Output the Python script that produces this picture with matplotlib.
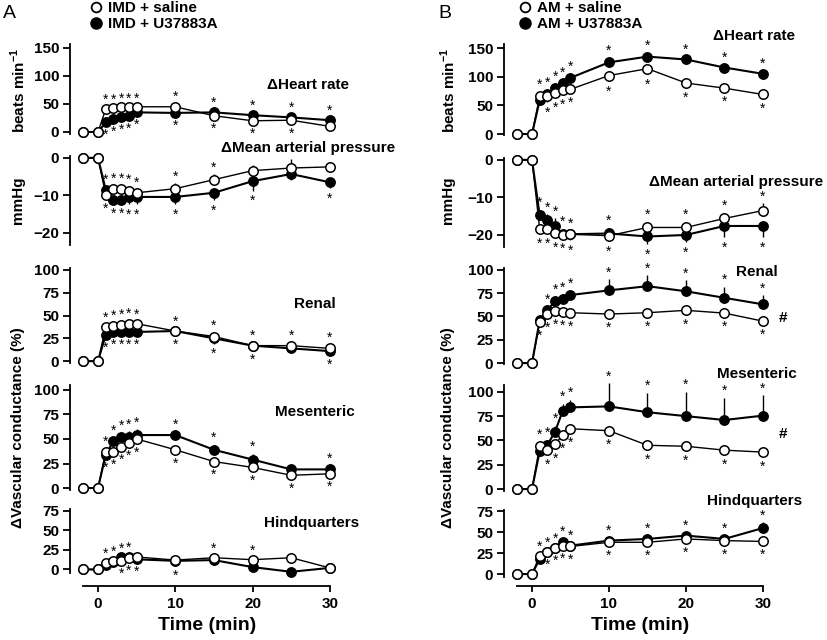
import numpy as np
import matplotlib
matplotlib.use('Agg')
import matplotlib.pyplot as plt
from matplotlib.lines import Line2D

plt.rcParams['font.family'] = ['Liberation Sans', 'DejaVu Sans']
plt.rcParams['font.weight'] = 'bold'
plt.rcParams['mathtext.fontset'] = 'custom'
plt.rcParams['mathtext.rm'] = 'Liberation Sans:bold'
plt.rcParams['mathtext.bf'] = 'Liberation Sans:bold'

W, H = 827, 640

# ---- data ----
t = [-2, 0, 1, 2, 3, 4, 5, 10, 15, 20, 25, 30]

# Panel A (IMD)
a_hr_sal = [0, 0, 41, 42, 44, 45, 45, 45, 29, 20, 21, 10]
a_hr_u37 = [0, 0, 17, 23, 26, 28, 35, 34, 35, 30, 26, 21]
a_map_sal = [0, 0, -9.8, -8.3, -8.3, -8.7, -9.3, -8.2, -5.8, -3.4, -2.7, -2.4]
a_map_u37 = [0, 0, -8.6, -11.1, -11.1, -10.4, -10.4, -10.4, -9.3, -6.2, -4.3, -6.5]
a_ren_sal = [0, 0, 37, 39, 40, 41, 41, 33, 27, 17, 17, 14]
a_ren_u37 = [0, 0, 29, 32, 32, 32, 32, 33, 25, 17, 14, 11]
a_mes_sal = [0, 0, 37, 37, 42, 46, 50, 39, 27, 21, 13, 14.5]
a_mes_u37 = [0, 0, 34, 48, 52, 52, 54, 54, 39, 29, 19, 19]
a_hq_sal = [0, 0, 8, 11, 11, 15, 16, 12, 15, 12.5, 15, 2]
a_hq_u37 = [0, 0, 6, 10, 16, 16, 13, 11, 12, 3, -3, 2]

# Panel B (AM)
b_hr_sal = [0, 0, 66, 66, 72, 77, 78, 102, 114, 89, 80, 69]
b_hr_u37 = [0, 0, 59, 69, 80, 89, 98, 125, 135, 130, 116, 105]
b_map_sal = [0, 0, -18.5, -18.5, -19.6, -20, -19.8, -20.2, -18, -18, -15.6, -13.5]
b_map_u37 = [0, 0, -14.8, -16, -17.6, -19.8, -19.8, -19.6, -20.4, -20, -17.6, -17.6]
b_ren_sal = [0, 0, 44, 52.6, 56, 55, 54, 52.6, 54, 56.6, 53.6, 45]
b_ren_u37 = [0, 0, 46, 56.6, 66.7, 68.6, 73, 78, 82.5, 77, 70, 63]
b_mes_sal = [0, 0, 44.5, 40, 46, 56, 62, 60, 45, 44, 40, 38]
b_mes_u37 = [0, 0, 39, 45.5, 59, 80.7, 84, 85, 79, 75, 71, 75.5]
b_hq_sal = [0, 0, 22, 26, 31, 34, 33, 38, 38, 42, 40, 39]
b_hq_u37 = [0, 0, 18, 26, 31, 38, 34, 40, 42, 46, 42, 55]

# SEM (drawn one-sided, away from the other group)
a_hr_e = ([0, 0, 4, 3, 3, 3, 3, 6, 5, 5, 5, 4], [0, 0, 4, 4, 4, 4, 4, 5, 5, 5, 5, 5])
a_map_e = ([0, 0, 1, 1, 1, 1, 1, 1.5, 1.5, 1.5, 2.5, 1], [0, 0, 1, 1, 1, 2, 2, 2, 2, 2.5, 1.5, 1.5])
a_ren_e = ([0, 0, 3, 3, 3, 4, 3, 3, 4, 3, 3, 4], [0, 0, 3, 3, 3, 3, 3, 4, 6, 4, 3, 3])
a_mes_e = ([0, 0, 3, 3, 3, 3, 3, 4, 3, 3, 3, 3], [0, 0, 3, 4, 5, 6, 6, 4, 5, 6, 4, 4])
a_hq_e = ([0, 0, 3, 3, 3, 3, 3, 3, 3, 3, 3, 2], [0, 0, 2, 2, 2, 3, 3, 6, 6, 3, 3, 3])
b_hr_e = ([0, 0, 8, 10, 8, 8, 6, 10, 10, 8, 6, 6], [0, 0, 8, 8, 8, 6, 8, 8, 8, 6, 6, 6])
b_map_e = ([0, 0, 1, 1, 1, 1, 1, 1.5, 1.5, 1.5, 1.5, 2], [0, 0, 1.5, 1.5, 2, 1.5, 1.5, 1.5, 2, 2, 3, 3])
b_ren_e = ([0, 0, 4, 4, 4, 4, 4, 4, 4, 4, 4, 4], [0, 0, 4, 4, 5, 5, 5, 12, 12, 12, 12, 10])
b_mes_e = ([0, 0, 4, 4, 4, 4, 4, 4, 4, 4, 4, 4], [0, 0, 4, 5, 6, 7, 8, 24, 20, 25, 23, 21])
b_hq_e = ([0, 0, 3, 3, 3, 3, 3, 4, 4, 4, 4, 4], [0, 0, 3, 3, 3, 4, 4, 4, 4, 4, 4, 7])

# significance markers (time points)
all_pts = [1, 2, 3, 4, 5, 10, 15, 20, 25, 30]
a_hr_st = (all_pts, [1, 2, 3, 4, 5, 10, 15, 20, 25])
a_map_st = ([1, 2, 3, 4, 5, 10, 15], [1, 2, 3, 4, 5, 10, 15, 20, 30])
a_ren_st = (all_pts, [1, 2, 3, 4, 5, 10, 15, 20, 30])
a_mes_st = ([1, 2, 3, 4, 5, 10, 15, 20, 30], all_pts)
a_hq_st = ([1, 2, 3, 4, 15, 20], [3, 4, 5, 10])
b_hr_st = (all_pts, [2, 3, 4, 5, 10, 15, 20, 25, 30])
b_map_st = (all_pts, all_pts)
b_ren_st = ([2, 3, 4, 5, 10, 15, 20, 25, 30], all_pts)
b_mes_st = (all_pts, [2, 3, 4, 5, 10, 15, 20, 25, 30])
b_hq_st = (all_pts, [2, 3, 4, 5, 10, 15, 20, 25, 30])


def box(left, top, right, bottom):
    return [left / W, 1 - bottom / H, (right - left) / W, (bottom - top) / H]


def fx(x):
    return x / W


def fy(y):
    return 1 - y / H


def draw(ax, sal, u37, errs, stars, ylim, yticks, bottom=False, sbounds=None):
    sal = np.array(sal, float)
    u37 = np.array(u37, float)
    es, eu = np.array(errs[0], float), np.array(errs[1], float)
    up_s = sal >= u37
    s_lo = np.where(up_s, 0, es)
    s_hi = np.where(up_s, es, 0)
    u_lo = np.where(up_s, eu, 0)
    u_hi = np.where(up_s, 0, eu)
    ax.errorbar(t, sal, yerr=[s_lo, s_hi], fmt='none', ecolor='black',
                elinewidth=1.0, capsize=0, zorder=2, clip_on=False)
    ax.errorbar(t, u37, yerr=[u_lo, u_hi], fmt='none', ecolor='black',
                elinewidth=1.0, capsize=0, zorder=2, clip_on=False)
    ax.plot(t, u37, '-o', color='black', lw=1.5, ms=6.8, mfc='black',
            mec='black', zorder=3, clip_on=False)
    ax.plot(t, sal, '-o', color='black', lw=1.0, ms=6.8, mfc='white',
            mec='black', mew=1.1, zorder=4, clip_on=False)
    top_v = np.maximum(sal + s_hi, u37 + u_hi)
    bot_v = np.minimum(sal - s_lo, u37 - u_lo)
    for tt in stars[0]:
        i = t.index(tt)
        ax.annotate('*', xy=(tt, top_v[i]), xytext=(0, 4.8), textcoords='offset points',
                    ha='center', va='center', fontsize=10, fontweight='normal',
                    annotation_clip=False)
    for tt in stars[1]:
        i = t.index(tt)
        ax.annotate('*', xy=(tt, bot_v[i]), xytext=(0, -7.5), textcoords='offset points',
                    ha='center', va='center', fontsize=10, fontweight='normal',
                    annotation_clip=False)
    ax.set_xlim(-3.6, 33)
    ax.set_ylim(*ylim)
    ax.set_yticks(yticks)
    ax.tick_params(axis='y', direction='out', length=5, width=1.3, labelsize=11, pad=3)
    for s in ['top', 'right']:
        ax.spines[s].set_visible(False)
    ax.spines['left'].set_linewidth(1.3)
    ax.patch.set_alpha(0)
    if sbounds:
        ax.spines['left'].set_bounds(*sbounds)
    if bottom:
        ax.spines['bottom'].set_linewidth(1.3)
        ax.spines['bottom'].set_bounds(-2, 30)
        ax.set_xticks([0, 10, 20, 30])
        ax.tick_params(axis='x', direction='out', length=4, width=1.3, labelsize=11, pad=4)
    else:
        ax.spines['bottom'].set_visible(False)
        ax.set_xticks([])
    for lab in ax.get_xticklabels() + ax.get_yticklabels():
        lab.set_fontweight('bold')


fig = plt.figure(figsize=(W / 100, H / 100), dpi=100)
fig.patch.set_facecolor('white')

# ---- panel A ----
axL, axR = 70.2, 353
ax = fig.add_axes(box(axL, 44, axR, 134))
draw(ax, a_hr_sal, a_hr_u37, a_hr_e, a_hr_st, (-3.6, 157), [0, 50, 100, 150])
ax = fig.add_axes(box(axL, 156, axR, 245))
draw(ax, a_map_sal, a_map_u37, a_map_e, a_map_st, (-23.2, 0.5), [0, -10, -20])
ax = fig.add_axes(box(axL, 268, axR, 363))
draw(ax, a_ren_sal, a_ren_u37, a_ren_e, a_ren_st, (-2, 102), [0, 25, 50, 75, 100])
ax = fig.add_axes(box(axL, 385, axR, 490))
draw(ax, a_mes_sal, a_mes_u37, a_mes_e, a_mes_st, (-2, 105), [0, 25, 50, 75, 100])
ax = fig.add_axes(box(axL, 507, axR, 586))
draw(ax, a_hq_sal, a_hq_u37, a_hq_e, a_hq_st, (-21.2, 80), [0, 25, 50, 75],
     bottom=True, sbounds=(-4, 78))

# ---- panel B ----
bxL, bxR = 504.3, 786
ax = fig.add_axes(box(bxL, 44, bxR, 135))
draw(ax, b_hr_sal, b_hr_u37, b_hr_e, b_hr_st, (-1.7, 157), [0, 50, 100, 150])
ax = fig.add_axes(box(bxL, 158, bxR, 247))
draw(ax, b_map_sal, b_map_u37, b_map_e, b_map_st, (-23.2, 0.5), [0, -10, -20])
ax = fig.add_axes(box(bxL, 268, bxR, 364))
draw(ax, b_ren_sal, b_ren_u37, b_ren_e, b_ren_st, (-1, 102), [0, 25, 50, 75, 100])
ax = fig.add_axes(box(bxL, 385, bxR, 491))
draw(ax, b_mes_sal, b_mes_u37, b_mes_e, b_mes_st, (-2, 107), [0, 25, 50, 75, 100])
ax = fig.add_axes(box(bxL, 508, bxR, 586))
draw(ax, b_hq_sal, b_hq_u37, b_hq_e, b_hq_st, (-14.3, 79), [0, 25, 50, 75],
     bottom=True, sbounds=(-3, 77))

# ---- text ----
tk = dict(fontsize=11, fontweight='bold', ha='center', va='center')
for x, y, s in [(308, 85, 'ΔHeart rate'), (308, 148, 'ΔMean arterial pressure'),
                (315, 304, 'Renal'), (315, 412, 'Mesenteric'), (312, 523, 'Hindquarters'),
                (754, 36, 'ΔHeart rate'), (736, 182, 'ΔMean arterial pressure'),
                (757, 272, 'Renal'), (757, 374, 'Mesenteric'), (755, 501, 'Hindquarters'),
                (783, 318, '#'), (783, 434, '#')]:
    fig.text(fx(x), fy(y), s, **tk)

for x0 in (18, 448):
    fig.text(fx(x0), fy(90), r'beats min$^{-1}$', rotation=90, **tk)
    fig.text(fx(x0), fy(200), 'mmHg', rotation=90, **tk)
    fig.text(fx(x0), fy(428), 'ΔVascular conductance (%)', rotation=90, **tk)

fig.text(fx(207), fy(625), 'Time (min)', fontsize=14, fontweight='bold', ha='center', va='center')
fig.text(fx(640), fy(625), 'Time (min)', fontsize=14, fontweight='bold', ha='center', va='center')
fig.text(fx(3), fy(14), 'A', fontsize=14, fontweight='normal', ha='left', va='center')
fig.text(fx(438), fy(14), 'B', fontsize=14, fontweight='normal', ha='left', va='center')

# legends
for xm, names in [(100, ['IMD + saline', 'IMD + U37883A']),
                  (529, ['AM + saline', 'AM + U37883A'])]:
    h = [Line2D([], [], ls='none', marker='o', ms=7, mfc='white', mec='black', mew=1.3),
         Line2D([], [], ls='none', marker='o', ms=8, mfc='black', mec='black')]
    fig.legend(h, names, loc='upper left', bbox_to_anchor=(fx(xm - 12), fy(1)),
               frameon=False, handlelength=1.0, handletextpad=0.3, labelspacing=0.15,
               borderaxespad=0, borderpad=0, prop={'size': 11, 'weight': 'bold'})

fig.savefig('out.png', dpi=100, facecolor='white')
